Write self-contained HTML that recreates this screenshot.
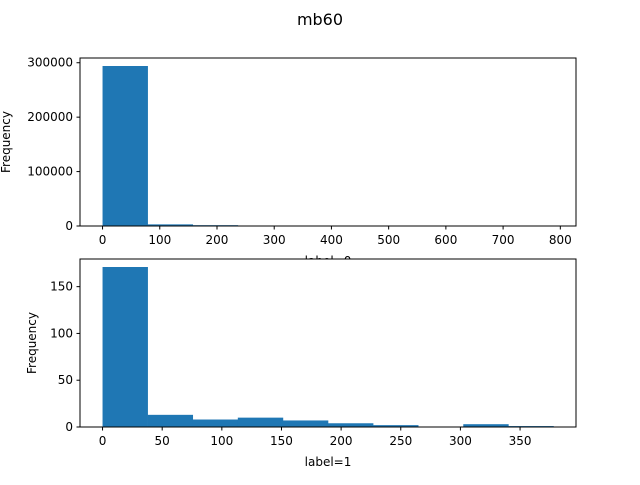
<!DOCTYPE html>
<html><head><meta charset="utf-8"><style>
body{margin:0;background:#fff;font-family:"Liberation Sans","DejaVu Sans",sans-serif;}
svg text{font-family:"DejaVu Sans","Liberation Sans",sans-serif;}
</style></head><body>
<svg id="chart" width="640" height="480" xmlns="http://www.w3.org/2000/svg">
<rect width="640" height="480" fill="#fff"/>
<text x="320" y="25" font-size="16" text-anchor="middle">mb60</text>
</svg>
<script>
const topCounts=[294000,3000,1500,150,40,10,5,3,1,1];
const topRange=[0,788];
const topTicksX=[0,100,200,300,400,500,600,700,800];
const topTicksY=[0,100000,200000,300000];
const botCounts=[171,13,8,10,7,4,2,0,3,1];
const botRange=[0,378];
const botTicksX=[0,50,100,150,200,250,300,350];
const botTicksY=[0,50,100,150];
const svg=document.getElementById('chart');
const NS='http://www.w3.org/2000/svg';
function mk(t,a,p){const e=document.createElementNS(NS,t);for(const k in a)e.setAttribute(k,a[k]);(p||svg).appendChild(e);return e;}
function panel(name,counts,range,tx,ty,top,bot,xlabel){
  const L=80,R=576;
  const g=mk('g',{});
  
  
  const bg=mk('rect',{x:L,y:top,width:R-L,height:bot-top,fill:'#fff'},g);
  
  
  const span=range[1]-range[0];
  const xmin=range[0]-span*0.05,xmax=range[1]+span*0.05;
  const X=v=>L+(v-xmin)/(xmax-xmin)*(R-L);
  const ymax=Math.max(...counts)*1.05;
  const Y=v=>bot-v/ymax*(bot-top);
  const w=span/counts.length;
  counts.forEach((c,i)=>{
    const r=mk('rect',{x:X(range[0]+i*w),y:Y(c),width:X(range[0]+(i+1)*w)-X(range[0]+i*w)+0.3,height:bot-Y(c),fill:'#1f77b4'},g);
    
    
  });
  const f=mk('rect',{x:L,y:top,width:R-L,height:bot-top,fill:'none',stroke:'#000','stroke-width':1},g);
  
  
  tx.forEach(t=>{
    mk('line',{x1:X(t),x2:X(t),y1:bot,y2:bot+3.5,stroke:'#000'},g);
    const s=mk('text',{x:X(t),y:bot+18,'font-size':12,'text-anchor':'middle'},g);s.textContent=t;
    
    
  });
  ty.forEach(t=>{
    mk('line',{x1:L-3.5,x2:L,y1:Y(t),y2:Y(t),stroke:'#000'},g);
    const s=mk('text',{x:L-7,y:Y(t)+4,'font-size':12,'text-anchor':'end'},g);s.textContent=t;
    
    
  });
  const xl=mk('text',{x:(L+R)/2,y:bot+39,'font-size':12,'text-anchor':'middle'},g);xl.textContent=xlabel;
  
  
  return g;
}
const t=panel('top-histogram',topCounts,topRange,topTicksX,topTicksY,58,226,'label=0');
const yl1=mk('text',{x:0,y:0,'font-size':12,'text-anchor':'middle',transform:'translate(10,142) rotate(-90)'});yl1.textContent='Frequency';


const b=panel('bottom-histogram',botCounts,botRange,botTicksX,botTicksY,259,427,'label=1');
const yl2=mk('text',{x:0,y:0,'font-size':12,'text-anchor':'middle',transform:'translate(36,343) rotate(-90)'});yl2.textContent='Frequency';


</script>
</body></html>
